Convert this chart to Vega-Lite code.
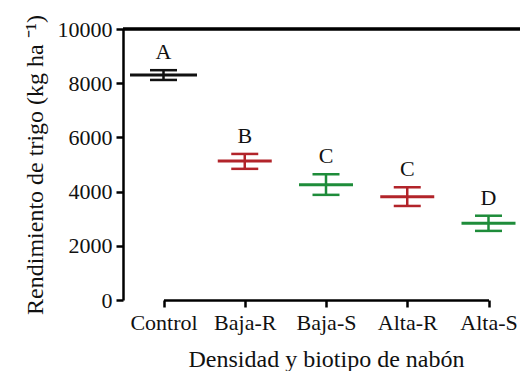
{
  "$schema": "https://vega.github.io/schema/vega-lite/v6.json",
  "width": 397,
  "height": 271,
  "autosize": {"type": "none"},
  "padding": {"left": 123, "top": 29, "right": 0, "bottom": 71},
  "background": "white",
  "config": {
    "font": "Liberation Serif",
    "view": {"stroke": null},
    "axis": {"grid": false, "domainColor": "black", "domainWidth": 2.5, "tickColor": "black", "tickWidth": 2.5, "tickSize": 7, "labelFont": "Liberation Serif", "labelFontSize": 22, "labelColor": "#111", "titleFont": "Liberation Serif", "titleFontSize": 24, "titleFontWeight": "normal", "titleColor": "#111"}
  },
  "data": {"values": [
    {"cat": "Control", "grp": "Control", "mean": 8300, "lo": 8120, "hi": 8480, "letter": "A"},
    {"cat": "Baja-R", "grp": "R", "mean": 5130, "lo": 4840, "hi": 5390, "letter": "B"},
    {"cat": "Baja-S", "grp": "S", "mean": 4250, "lo": 3880, "hi": 4640, "letter": "C"},
    {"cat": "Alta-R", "grp": "R", "mean": 3810, "lo": 3470, "hi": 4160, "letter": "C"},
    {"cat": "Alta-S", "grp": "S", "mean": 2830, "lo": 2550, "hi": 3110, "letter": "D"}
  ]},
  "encoding": {
    "x": {"field": "cat", "type": "nominal", "sort": null, "scale": {"type": "point", "padding": 0, "range": [40.5, 365.5]},
      "axis": {"title": "Densidad y biotipo de nabón", "labelAngle": 0, "labelPadding": 5, "titlePadding": 14}},
    "color": {"field": "grp", "type": "nominal", "legend": null,
      "scale": {"domain": ["Control", "R", "S"], "range": ["#111111", "#B2242A", "#1E8C3A"]}}
  },
  "layer": [
    {"mark": {"type": "rule", "strokeWidth": 2.5, "color": "black"},
     "encoding": {"y": {"datum": 10000}, "x": null, "color": null}},
    {"mark": {"type": "rule", "strokeWidth": 2.5},
     "encoding": {
       "y": {"field": "lo", "type": "quantitative", "scale": {"domain": [0, 10000]},
         "axis": {"title": "Rendimiento de trigo (kg ha ⁻¹)", "values": [0, 2000, 4000, 6000, 8000, 10000], "format": "d", "labelPadding": 4, "titlePadding": 10}},
       "y2": {"field": "hi"}}},
    {"mark": {"type": "tick", "thickness": 2.5, "size": 27, "orient": "horizontal", "opacity": 1},
     "encoding": {"y": {"field": "lo", "type": "quantitative"}}},
    {"mark": {"type": "tick", "thickness": 2.5, "size": 27, "orient": "horizontal", "opacity": 1},
     "encoding": {"y": {"field": "hi", "type": "quantitative"}}},
    {"mark": {"type": "tick", "thickness": 3, "orient": "horizontal", "opacity": 1},
     "encoding": {"y": {"field": "mean", "type": "quantitative"},
       "size": {"condition": {"test": "datum.cat === 'Control'", "value": 67}, "value": 54}}},
    {"mark": {"type": "text", "dy": -18, "fontSize": 22, "font": "Liberation Serif"},
     "encoding": {"y": {"field": "hi", "type": "quantitative"}, "text": {"field": "letter"}, "color": {"value": "#111"}}}
  ]
}
